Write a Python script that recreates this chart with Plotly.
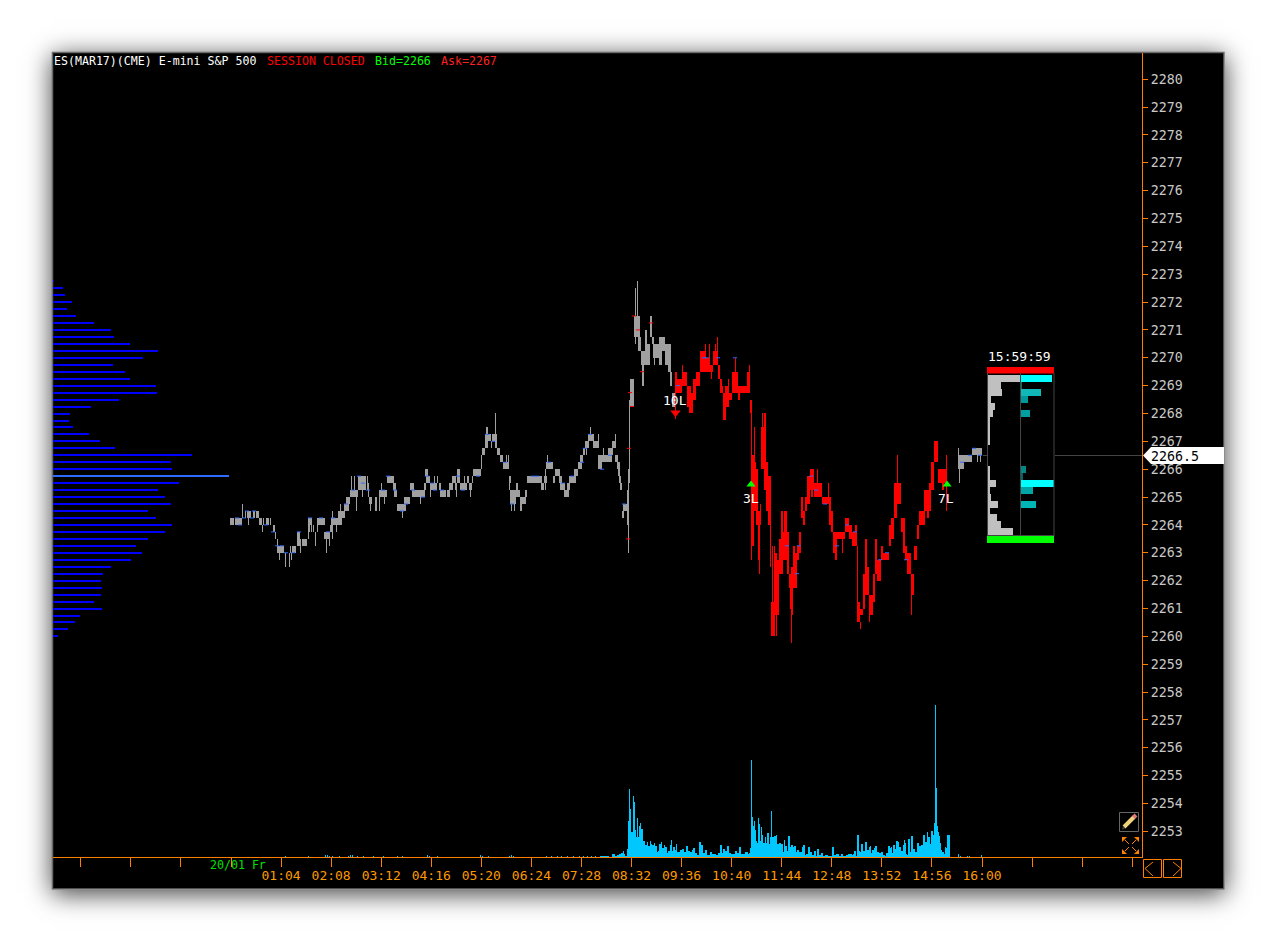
import plotly.graph_objects as go

W, H = 1277, 943
MONO = "DejaVu Sans Mono"
ORANGE = "#ff8000"
GRAY = "#a0a0a0"
RED = "#ff0000"
BLUE = "#2e6bff"
CYAN = "#00c8ff"

# ---- time scale: x axis is the bar number, one bar per pixel column
minutes_per_bar = 960 / 751
tick_minutes = [-192, -128, -64, 0, 64, 128, 192, 256, 320, 384, 448, 512, 576, 640, 704, 768, 832, 896, 960, 1024, 1088, 1152]
tick_labels = ["", "", "", "", "01:04", "02:08", "03:12", "04:16", "05:20", "06:24", "07:28", "08:32", "09:36", "10:40",
               "11:44", "12:48", "13:52", "14:56", "16:00", "", "", ""]

# ---- gray price blocks (bar range start, end, low, high)
gray_start = [-1, 4, 11, 16, 22, 25, 28, 31, 42, 46, 61, 66, 71, 77, 86, 93, 99, 100, 107, 113, 115, 119, 127, 138, 149, 156, 162, 163, 166, 173,
              179, 181, 193, 194, 195, 200, 209, 216, 218, 221, 224, 226, 231, 236, 238, 241, 242, 250, 251, 254, 255, 256, 261, 266, 269, 272, 278, 279, 285, 286,
              289, 291, 294, 296, 310, 313, 315, 322, 324, 328, 329, 333, 336, 338, 343, 347, 349, 352, 354, 357, 362, 367, 371, 377, 381, 384, 386, 387, 388, 389,
              391, 392, 399, 403, 407, 410, 414, 414, 419, 421, 422, 428, 431, 434, 437, 439, 441, 727, 733, 737, 741,
              208, 229, 14, 36, 59]
gray_end = [3, 11, 12, 20, 24, 28, 31, 32, 44, 53, 64, 69, 76, 81, 94, 99, 101, 111, 114, 118, 119, 127, 135, 141, 156, 163, 165, 166, 175, 179,
            183, 194, 195, 197, 199, 206, 215, 219, 222, 225, 226, 229, 236, 238, 241, 242, 250, 251, 254, 257, 257, 260, 264, 269, 272, 278, 280, 285, 287, 289,
            291, 295, 296, 311, 313, 316, 322, 324, 329, 331, 334, 338, 339, 345, 347, 351, 352, 354, 358, 363, 368, 371, 381, 382, 385, 387, 389, 389, 390, 391,
            393, 398, 403, 409, 410, 414, 416, 419, 421, 423, 428, 431, 434, 437, 440, 441, 444, 733, 737, 741, 751,
            210, 231, 15, 37, 60]
gray_low = [2264, 2264, 2264.25, 2264.25, 2264.25, 2264.25, 2264, 2263.75, 2263.75, 2263, 2263, 2263.25, 2263.25, 2264, 2264, 2263.5, 2263.75, 2264, 2264.25, 2264.5,
            2264.75, 2265, 2265.25, 2264.75, 2265, 2265.5, 2265.25, 2265, 2264.5, 2264.75,
            2265.25, 2265, 2265.25, 2265.75, 2265.5, 2265.25, 2265, 2265, 2265.25, 2265.5, 2265.25, 2265.5, 2265.25, 2265.5, 2265.25, 2265.5, 2265.75, 2266, 2266.5, 2266.75,
            2267, 2267, 2267, 2266.5, 2266.25, 2266, 2265.5, 2264.75, 2265, 2265,
            2264.5, 2264.75, 2265, 2265.5, 2265.25, 2265.5, 2266, 2265.5, 2265.75, 2265.5, 2265.25, 2265, 2265.25, 2265.5, 2265.75, 2266, 2266.25, 2266.5, 2266.75, 2267,
            2266.75, 2266, 2266.25, 2266.5, 2266.75, 2266.25, 2266, 2265.75, 2265.5, 2265.25,
            2264.25, 2264.5, 2268.25, 2270.75, 2270.25, 2269.75, 2270.5, 2269.75, 2270.75, 2270.5, 2270, 2269.75, 2270.25, 2269.75, 2269.5, 2269, 2268.25, 2266, 2266.25, 2266.25, 2266.5,
            2265.25, 2265.25, 2264.25, 2264, 2263]
gray_high = [2264.25, 2264.25, 2264.5, 2264.5, 2264.5, 2264.5, 2264.25, 2264, 2264, 2263.25, 2263.25, 2263.75, 2263.5, 2264.25, 2264.25, 2263.75, 2264, 2264.25, 2264.5, 2264.75,
             2265, 2265.25, 2265.75, 2265, 2265.25, 2265.75, 2265.5, 2265.25, 2264.75, 2265,
             2265.5, 2265.25, 2265.5, 2266, 2265.75, 2265.5, 2265.25, 2265.25, 2265.5, 2265.75, 2265.5, 2266, 2265.5, 2265.75, 2265.5, 2265.75, 2266, 2266.5, 2266.75, 2267.25,
             2267.5, 2267.25, 2267.25, 2266.75, 2266.5, 2266.25, 2265.75, 2265.25, 2265.5, 2265.25,
             2265, 2265, 2265.25, 2265.75, 2265.5, 2265.75, 2266.25, 2265.75, 2266, 2265.75, 2265.5, 2265.25, 2265.5, 2265.75, 2266, 2266.25, 2266.5, 2266.75, 2267, 2267.25,
             2267, 2266.5, 2266.5, 2266.75, 2267, 2266.5, 2266.25, 2266, 2265.75, 2265.5,
             2264.5, 2264.75, 2269.25, 2271.5, 2270.75, 2270.25, 2271, 2270.5, 2271.5, 2270.75, 2270.5, 2270.75, 2270.75, 2270.5, 2270.5, 2269.5, 2268.75, 2266.5, 2266.5, 2266.5, 2266.75,
             2265.5, 2265.5, 2264.5, 2264.25, 2263.25]

# ---- gray one-bar spikes
gw_x = [11, 17, 32, 35, 37, 39, 31, 44, 46, 48, 54, 58, 60, 64, 69, 77, 78, 80, 82, 84, 86, 95, 98, 101, 101, 105, 109, 125, 120, 123, 131, 136, 137, 139, 144, 145, 148, 150, 153, 171, 189, 199,
        203, 206, 208, 199, 225, 233, 239, 260, 264, 265, 275, 277, 278, 280, 283, 290, 314, 314, 316, 322, 355, 359, 367, 372, 384,
        396, 397, 398, 398, 404, 406, 404, 411, 412, 423, 727, 728, 746, 749]
gw_low = [2264.25, 2264, 2264, 2264, 2264, 2264, 2263.75, 2263.5, 2263.25, 2262.75, 2262.5, 2262.5, 2262.75, 2263, 2263, 2263.5, 2263.75, 2263.75, 2263.75, 2263.25, 2263.75, 2263, 2263.25, 2264.25, 2263.5, 2263.75, 2264.5, 2264.5, 2265.25, 2265.25, 2265, 2265.25, 2265, 2264.5, 2264.5, 2264.5, 2264.5, 2265.25, 2264.75, 2264.25, 2264.75, 2265,
          2265.5, 2265.5, 2265.25, 2265, 2265, 2265.5, 2265, 2266.75, 2266.75, 2266.75, 2266.25, 2266.25, 2265.25, 2264.5, 2264.5, 2264.5, 2265.25, 2265.75, 2266.25, 2265.5, 2266.5, 2267.25, 2267, 2266.5, 2267,
          2264, 2263, 2265.5, 2267.25, 2271.5, 2271.5, 2270.5, 2269, 2269, 2269.75, 2266, 2265.5, 2266.25, 2266.25]
gw_high = [2264.75, 2264.25, 2264.25, 2264.25, 2264.25, 2264.25, 2264, 2263.75, 2263.5, 2263, 2263, 2263, 2263, 2263.25, 2263.5, 2264, 2264, 2264, 2264, 2263.75, 2264, 2263.5, 2263.5, 2264.5, 2264, 2264, 2264.75, 2265, 2265.75, 2265.75, 2265.25, 2265.75, 2265.5, 2264.75, 2265, 2265, 2265.25, 2265.5, 2265, 2264.5, 2265, 2265.5,
           2265.75, 2265.75, 2265.5, 2265.25, 2265.25, 2265.75, 2265.25, 2267, 2268, 2267.25, 2266.5, 2266.5, 2265.75, 2264.75, 2264.75, 2264.75, 2265.5, 2266, 2266.5, 2265.75, 2266.75, 2267.5, 2267.25, 2266.75, 2267.25,
           2265.25, 2266, 2268.5, 2268.25, 2272.5, 2272.75, 2270.75, 2269.75, 2269.75, 2270, 2266.75, 2266, 2266.5, 2266.5]

# ---- red price blocks
red_start = [445, 446, 451, 456, 458, 462, 465, 469, 476, 482, 489, 492, 494, 498, 501, 507, 509, 519, 521, 523, 525, 527, 529, 530, 533, 535, 537, 539, 540, 544,
             546, 548, 550, 552, 553, 558, 559, 562, 564, 566, 568, 570, 572, 574, 576, 579, 583, 587, 591, 595, 600, 602, 604, 606, 614, 618, 621, 624, 626, 629,
             632, 634, 638, 642, 644, 646, 650, 652, 658, 660, 663, 666, 670, 674, 676, 680, 683, 686, 688, 693, 696, 700, 703, 707, 711,
             475, 479, 487, 491, 516, 556, 560, 698, 713, 636, 634, 598, 580, 604, 672]
red_end = [446, 451, 456, 460, 462, 465, 469, 475, 479, 487, 491, 495, 498, 501, 507, 509, 516, 521, 523, 525, 527, 529, 530, 533, 535, 537, 539, 540, 544, 546,
           548, 550, 552, 558, 556, 560, 561, 564, 566, 568, 570, 572, 574, 576, 579, 583, 587, 591, 595, 600, 602, 604, 606, 614, 618, 621, 624, 626, 629, 632,
           634, 636, 642, 644, 646, 650, 652, 658, 660, 663, 666, 670, 674, 676, 680, 683, 686, 688, 694, 696, 698, 703, 707, 711, 713,
           476, 482, 489, 492, 519, 558, 562, 700, 715, 638, 636, 600, 582, 606, 674]
red_low = [2268.75, 2268.75, 2269, 2268.25, 2268, 2268.5, 2269, 2269.5, 2269.5, 2269.75, 2268.75, 2267.75, 2268.25, 2268.5, 2268.75, 2268.5, 2268.75, 2268, 2263.25, 2264.5, 2264, 2262.75, 2264, 2266, 2265.25, 2264.5, 2264, 2262.5, 2260, 2260.75,
           2260.75, 2262.25, 2262.25, 2262.75, 2263.25, 2261.75, 2261, 2261.75, 2261.75, 2262.75, 2263, 2264.25, 2264, 2264.5, 2264.75, 2265.25, 2265, 2265, 2264.75, 2264.75, 2263.75, 2263, 2262.75, 2263.5, 2263.75, 2263.5, 2263.25, 2263.25, 2260.5, 2260.75,
           2261, 2262.5, 2260.75, 2261.25, 2262.25, 2262, 2262.75, 2262.75, 2263.25, 2263.5, 2264.25, 2264.75, 2263.75, 2262.75, 2262.25, 2261.5, 2262.75, 2263.5, 2264, 2264.5, 2264.25, 2265.25, 2266.25, 2265.5, 2265.25,
           2269.5, 2269.5, 2269.25, 2268.75, 2268.75, 2262.25, 2260.75, 2264.5, 2265.5, 2261.5, 2261.5, 2264, 2265, 2263, 2263]
red_high = [2269.5, 2269.25, 2269.5, 2269, 2268.75, 2269.25, 2269.5, 2270.25, 2270, 2270.25, 2269.25, 2268.75, 2269, 2268.75, 2269.5, 2269, 2269, 2268.5, 2266.5, 2266.25, 2266, 2264.5, 2264.75, 2267.5, 2268, 2266.25, 2265.75, 2264.25, 2261.25, 2263,
            2262.75, 2263.5, 2264.5, 2263.75, 2264.5, 2262.25, 2262, 2263.25, 2263, 2263.25, 2263.75, 2265, 2264.5, 2265, 2265.75, 2266, 2265.5, 2265.5, 2265, 2265, 2264.5, 2263.75, 2263.5, 2263.75, 2264.25, 2264, 2263.75, 2264, 2261.25, 2261,
            2262.25, 2263.5, 2261.5, 2262.25, 2263.5, 2262.75, 2263.25, 2263, 2264, 2264.25, 2265.5, 2265.5, 2264.25, 2263.25, 2263, 2262.25, 2263.25, 2264, 2264.5, 2265.25, 2265.25, 2266.25, 2267, 2266, 2266,
            2270, 2269.75, 2269.75, 2269, 2269.5, 2263.5, 2262.5, 2265.5, 2266, 2262.5, 2262.5, 2264.75, 2265.75, 2263.75, 2264]

# ---- red one-bar spikes
rw_x = [444, 451, 474, 478, 480, 484, 486, 488, 497, 504, 516, 518, 520, 523, 528, 531, 539, 543, 541, 545, 560, 586, 597, 611, 626, 629, 638, 666, 680, 715]
rw_low = [2267.8, 2269, 2270.25, 2270, 2269.25, 2270.25, 2269.75, 2269.25, 2269, 2269.5, 2269, 2268.75, 2262.75, 2266.25, 2262.25, 2267.5, 2263.75, 2261.25, 2261.25, 2260, 2259.75, 2265.5, 2265, 2263, 2261.25, 2260.25, 2260.5, 2265.25, 2260.75, 2264.5]
rw_high = [2269.5, 2269.75, 2270.5, 2270.5, 2269.75, 2270.5, 2270.75, 2269.75, 2269.25, 2270, 2269.5, 2269.75, 2268, 2267.5, 2262.75, 2268, 2265.75, 2263.25, 2263.25, 2260.75, 2261, 2266, 2265.5, 2263.5, 2263.25, 2260.5, 2261.5, 2266.5, 2261.5, 2266.5]

# ---- small trade ticks on the bars
blue_x = [6, 9, 13, 21, 16, 23, 35, 42, 46, 51, 55, 62, 68, 79, 90, 97, 102, 115, 122, 128, 132, 137, 152, 157, 164, 171, 175, 182, 192, 196, 201,
          204, 211, 227, 232, 247, 256, 262, 274, 281, 302, 306, 318, 332, 341, 351, 354, 359, 371, 379, 393,
          447, 473, 476, 487, 504, 580, 585, 594, 616, 624, 606, 556, 568, 566, 649, 656, 675, 731, 743, 749, 739]
blue_y = [2264.25, 2264, 2264.25, 2264.25, 2264.5, 2264.5, 2264, 2263.75, 2263.25, 2263.25, 2263, 2263, 2263.75, 2264.25, 2264.25, 2263.75, 2264.25, 2264.75, 2265.25, 2265.75, 2265.5, 2265.25, 2265.25, 2265.75, 2265.25, 2264.5, 2264.75, 2265.25, 2265, 2265.75, 2265.5,
          2265.25, 2265.25, 2265.75, 2265.25, 2265.75, 2267.25, 2267, 2266.25, 2264.75, 2265.75, 2265.75, 2266.25, 2265.5, 2265.75, 2266.25, 2266.75, 2267.25, 2266, 2266.5, 2264.75,
          2269, 2270, 2270, 2270, 2270, 2265.75, 2265.25, 2264.75, 2264, 2263.75, 2263.25, 2263.25, 2263.25, 2262.25, 2262.75, 2263, 2262.75, 2266.25, 2266.75, 2266.5, 2266.5]
speck_x = [403, 407, 420, 411, 399, 401, 398, 397]
speck_y = [2271.5, 2271, 2271.25, 2269.5, 2268.75, 2268.25, 2266.75, 2263.5]

# ---- volume per bar
vol_x = [54, 77, 94, 96, 98, 101, 108, 117, 119, 121, 126, 132, 142, 152, 166, 171, 196, 198, 206, 249, 251, 257, 278, 280, 282, 315, 320, 326, 330, 336, 342, 348, 352, 356, 360, 364,
         369, 372, 375, 381, 384, 386, 388, 390, 392, 393, 394, 396, 397, 398, 399, 400, 401, 402, 403, 404, 405, 406, 407, 408, 409, 410, 412, 413, 414, 416, 417, 419, 420, 421, 423, 424, 426, 427, 428,
         430, 431, 433, 434, 436, 437, 439, 440, 441, 442, 444, 445, 446, 448, 449, 451, 453, 455, 457, 459, 461, 462, 464, 466, 468, 470, 472, 474, 476, 479, 481, 483, 485, 487, 489, 491, 492, 494, 496, 498,
         500, 501, 504, 506, 508, 510, 512, 514, 517, 518, 519, 520, 521, 522, 523, 524, 525, 526, 527, 528, 529, 530, 531, 532, 534, 535, 536, 538, 539, 540, 541, 543, 545, 546, 548, 550, 552, 553, 554, 556, 557, 559, 560, 562, 563, 565, 566, 568,
         571, 572, 574, 575, 577, 579, 581, 583, 585, 586, 588, 590, 592, 594, 597, 599, 601, 603, 605, 608, 610, 612, 615, 617, 619, 621, 622, 623, 625, 626, 628, 629, 630, 632, 634, 636, 638, 639, 640, 641, 643, 644, 646, 648, 650, 652, 654, 655, 657, 659, 660, 661, 662, 664, 665, 667, 668, 670, 672, 673, 674, 675, 676, 677, 679, 680, 682, 684, 686, 688, 690, 692, 694, 696, 697, 699, 700, 702, 703, 704, 705, 706, 707, 708, 709, 710, 711, 713, 714, 715, 716,
         727, 729, 736, 738, 750]
vol_y = [1, 1, 2, 2, 1, 1, 1, 1, 2, 2, 1, 1, 1, 1, 1, 1, 2, 1, 1, 2, 1, 1, 1, 2, 1, 1, 1, 1, 1, 1, 1, 1, 1, 1, 1, 1,
         1, 1, 1, 3, 1, 2, 3, 4, 6, 3, 1, 8, 36, 68, 48, 25, 25, 61, 55, 27, 20, 39, 20, 31, 34, 28, 16, 16, 12, 15, 11, 16, 13, 12, 14, 11, 5, 6, 13,
         15, 9, 12, 10, 4, 6, 12, 17, 6, 10, 7, 13, 5, 5, 7, 8, 5, 11, 6, 5, 7, 9, 4, 2, 15, 12, 4, 7, 2, 5, 3, 3, 2, 4, 12, 4, 8, 6, 11, 4,
         3, 3, 6, 4, 10, 3, 3, 5, 3, 4, 9, 97, 40, 31, 36, 27, 16, 14, 39, 33, 16, 30, 22, 14, 20, 14, 24, 13, 20, 46, 20, 21, 22, 13, 14, 13, 5, 17, 11, 6, 21, 10, 12, 10, 11, 5, 7, 5,
         10, 12, 2, 3, 10, 5, 2, 6, 1, 8, 2, 4, 1, 2, 1, 1, 10, 2, 3, 1, 3, 1, 2, 3, 3, 2, 3, 6, 1, 22, 6, 5, 13, 6, 15, 7, 10, 11, 4, 7, 9, 11, 5, 4, 5, 2, 1, 4, 11, 9, 10, 4, 12, 8, 16, 15, 10, 6, 12, 17, 14, 3, 2, 18, 5, 21, 8, 5, 14, 11, 12, 22, 15, 25, 20, 13, 26, 22, 34, 152, 69, 31, 25, 21, 14, 7, 5, 3, 10, 9, 22,
         3, 1, 1, 1, 2]

# ---- volume-at-price profile, left edge
profile_price = [2272.75, 2272.5, 2272.25, 2272, 2271.75, 2271.5, 2271.25, 2271, 2270.75, 2270.5, 2270.25, 2270, 2269.75, 2269.5, 2269.25, 2269, 2268.75, 2268.5, 2268.25, 2268, 2267.75, 2267.5, 2267.25, 2267, 2266.75, 2266.5,
                 2266.25, 2266, 2265.75, 2265.5, 2265.25, 2265, 2264.75, 2264.5, 2264.25, 2264, 2263.75, 2263.5, 2263.25, 2263, 2262.75, 2262.5, 2262.25, 2262, 2261.75, 2261.5, 2261.25, 2261, 2260.75, 2260.5, 2260.25, 2260]
profile_vol = [1, 10, 12, 19, 14, 23, 41, 58, 61, 77, 105, 90, 60, 72, 77, 103, 104, 66, 38, 17, 16, 20, 36, 47, 62, 139,
               118, 119, 176, 126, 105, 112, 118, 95, 103, 119, 112, 95, 83, 89, 78, 58, 50, 48, 49, 48, 41, 49, 27, 22, 15, 5]

# ---- last-session bid / ask profile
box_price = [2269.25, 2269, 2268.75, 2268.5, 2268.25, 2268, 2267.75, 2267.5, 2267.25, 2267, 2266, 2265.75, 2265.5, 2265.25, 2265, 2264.75, 2264.5, 2264.25, 2264, 2263.75]
box_bid = [32, 13, 14, 3, 7, 5, 2, 2, 2, 2, 2, 2, 8, 2, 3, 10, 2, 9, 13, 25]
box_ask = [31, 1, 20, 7, 0, 9, 0, 0, 0, 0, 5, 2, 33, 12, 0, 15, 0, 0, 0, 0]
box_ask_color = ["#00ffff", "#007070", "#10b8b8", "#009999", "#000000", "#00a0a0", "#000000", "#000000", "#000000", "#000000",
                 "#008888", "#006666", "#00ffff", "#00a5a5", "#000000", "#00b5b5", "#000000", "#000000", "#000000", "#000000"]

last_price = 2266.5


def bar_of(start, end, low, high, color):
    return go.Bar(x=[(s + e) / 2 for s, e in zip(start, end)], width=[e - s for s, e in zip(start, end)],
                  base=low, y=[h - l for h, l in zip(high, low)], marker=dict(color=color, line=dict(width=0)),
                  hoverinfo="skip", showlegend=False)


def spike_of(xs, low, high, color):
    return go.Bar(x=[v + 0.5 for v in xs], width=[1] * len(xs), base=low, y=[h - l for h, l in zip(high, low)],
                  marker=dict(color=color, line=dict(width=0)), hoverinfo="skip", showlegend=False)


fig = go.Figure()
fig.add_trace(bar_of(gray_start, gray_end, gray_low, gray_high, GRAY))
fig.add_trace(spike_of(gw_x, gw_low, gw_high, GRAY))
fig.add_trace(bar_of(red_start, red_end, red_low, red_high, RED))
fig.add_trace(spike_of(rw_x, rw_low, rw_high, RED))
fig.add_trace(go.Scatter(x=blue_x, y=blue_y, mode="markers", hoverinfo="skip", showlegend=False,
                         marker=dict(symbol="line-ew", size=3, line=dict(color=BLUE, width=1))))
fig.add_trace(go.Scatter(x=speck_x, y=speck_y, mode="markers", hoverinfo="skip", showlegend=False,
                         marker=dict(symbol="line-ew", size=3, line=dict(color=RED, width=1))))

# volume bars on their own scale
vol_w = [min(b - a, 3) for a, b in zip(vol_x, vol_x[1:])] + [1]
vol_w = [1 if a < 369 or a > 716 else w for a, w in zip(vol_x, vol_w)]
fig.add_trace(go.Bar(x=[a + w / 2 for a, w in zip(vol_x, vol_w)], width=vol_w, y=vol_y, yaxis="y2",
                     marker=dict(color=CYAN, line=dict(width=0)), hoverinfo="skip", showlegend=False))

# left profile, on a length axis
poc = profile_vol.index(max(profile_vol))
fig.add_trace(go.Bar(x=profile_vol, y=profile_price, orientation="h", xaxis="x2", width=0.04,
                     marker=dict(color=["#2e6bff" if i == poc else "#0000ff" for i in range(len(profile_vol))], line=dict(width=0)),
                     hoverinfo="skip", showlegend=False))
# session box profile
BID_BASE, ASK_BASE = 935, 968
fig.add_trace(go.Bar(x=box_bid, y=box_price, base=[BID_BASE] * len(box_bid), orientation="h", xaxis="x2", width=0.25,
                     marker=dict(color="#c0c0c0", line=dict(width=0)), hoverinfo="skip", showlegend=False))
fig.add_trace(go.Bar(x=box_ask, y=box_price, base=[ASK_BASE] * len(box_ask), orientation="h", xaxis="x2", width=0.25,
                     marker=dict(color=box_ask_color, line=dict(width=0)), hoverinfo="skip", showlegend=False))

# signal markers
fig.add_trace(go.Scatter(x=[444.5], y=[2268.03], mode="markers", hoverinfo="skip", showlegend=False,
                         marker=dict(symbol="triangle-down", size=9, color=RED, line=dict(width=0))))
fig.add_trace(go.Scatter(x=[520, 716], y=[2265.45, 2265.45], mode="markers", hoverinfo="skip", showlegend=False,
                         marker=dict(symbol="triangle-up", size=8, color="#00ff00", line=dict(width=0))))


def px(v):
    return v / W


def py(v):
    return 1 - v / H


def rect(x0, y0, x1, y1, fill=None, line=None, lw=1, layer="below", opacity=1):
    return dict(type="rect", xref="paper", yref="paper", x0=px(x0), x1=px(x1), y0=py(y0), y1=py(y1), layer=layer, opacity=opacity,
                fillcolor=fill or "rgba(0,0,0,0)", line=dict(color=line or "rgba(0,0,0,0)", width=lw if line else 0))


def seg(x0, y0, x1, y1, color, lw=1, layer="above"):
    return dict(type="line", xref="paper", yref="paper", x0=px(x0), x1=px(x1), y0=py(y0), y1=py(y1), layer=layer, line=dict(color=color, width=lw))


def poly(points, fill=None, line=None, lw=1, layer="above"):
    path = "M" + " L".join(f"{px(a):.5f},{py(b):.5f}" for a, b in points)
    if fill:
        path += " Z"
    return dict(type="path", xref="paper", yref="paper", path=path, layer=layer,
                fillcolor=fill or "rgba(0,0,0,0)", line=dict(color=line or "rgba(0,0,0,0)", width=lw if line else 0))


shapes = [rect(52.5, 52.5, 1224, 889, fill="#000000", line="#6a6a6a", lw=1.5)]

# session box
shapes += [
    rect(987, 367, 1054, 373.5, fill="#ff0000", layer="above"),
    rect(987, 536, 1054, 543, fill="#00ff00", layer="above"),
    seg(987.5, 373, 987.5, 536, "#444444"),
    seg(1020.5, 373, 1020.5, 535, "#444444"),
    seg(1054, 373, 1054, 536, "#444444"),
    seg(987, 535.5, 1054, 535.5, "#444444"),
    seg(983, 455.5, 988, 455.5, "#444444"),
    seg(1055, 455.5, 1142, 455.5, "#444444"),
    # last price tag
    poly([(1143, 455.5), (1151, 447), (1224, 447), (1224, 464), (1151, 464)], fill="#ffffff"),
    # pencil button
    rect(1119.5, 812.5, 1138.5, 831.5, line="#666666", lw=1, layer="above"),
    seg(1124, 827, 1134, 817, "#f0d27a", 4),
    seg(1133.5, 817.5, 1136, 815, "#e07a7a", 4),
    poly([(1122, 829.5), (1125, 828.5), (1123, 826.5)], fill="#444444"),
    # expand icon
    poly([(1122, 837), (1127, 837), (1122, 842)], fill=ORANGE),
    poly([(1139, 837), (1134, 837), (1139, 842)], fill=ORANGE),
    poly([(1122, 854), (1127, 854), (1122, 849)], fill=ORANGE),
    poly([(1139, 854), (1134, 854), (1139, 849)], fill=ORANGE),
    seg(1125, 840, 1129, 844, ORANGE), seg(1136, 840, 1132, 844, ORANGE),
    seg(1125, 851, 1129, 847, ORANGE), seg(1136, 851, 1132, 847, ORANGE),
    # scroll buttons
    rect(1143.5, 859.5, 1161.5, 877.5, line=ORANGE, lw=1, layer="above"),
    rect(1163.5, 859.5, 1181.5, 877.5, line=ORANGE, lw=1, layer="above"),
    poly([(1153, 862), (1145, 868.5), (1153, 876)], line=ORANGE),
    poly([(1173, 862), (1181, 868.5), (1173, 876)], line=ORANGE),
]


def note(text, x, y, color, size, xanchor="left"):
    return dict(text=text, x=px(x), y=py(y), xref="paper", yref="paper", showarrow=False, xanchor=xanchor, yanchor="middle",
                font=dict(family=MONO, size=size, color=color), borderpad=0, borderwidth=0, align="left")


annotations = [
    note("ES(MAR17)(CME) E-mini S&amp;P 500", 54, 60.5, "#ffffff", 11.6),
    note("SESSION CLOSED", 267, 60.5, "#ff0000", 11.6),
    note("Bid=2266", 375, 60.5, "#00ff00", 11.6),
    note("Ask=2267", 441, 60.5, "#ff2020", 11.6),
    note("20/01 Fr", 210, 865, "#00e000", 11.6),
    note("15:59:59", 1019.5, 356, "#ffffff", 13, "center"),
    note("2266.5", 1151, 456, "#000000", 13.3),
]
for label, x, y in [("10L", 444, 2268.47), ("3L", 520, 2264.95), ("7L", 715, 2264.95)]:
    annotations.append(dict(text=label, x=x, y=y, xref="x", yref="y", showarrow=False, xanchor="center", yanchor="middle",
                            font=dict(family=MONO, size=13, color="#ffffff")))

dom_x = [53 / W, 1142 / W]
dom_y = [1 - 857 / H, 1 - 53 / H]
fig.update_layout(
    width=W, height=H, autosize=False, margin=dict(l=0, r=0, t=0, b=0), paper_bgcolor="rgba(0,0,0,0)", plot_bgcolor="rgba(0,0,0,0)",
    barmode="overlay", bargap=0, showlegend=False, shapes=shapes, annotations=annotations, hovermode=False,
    xaxis=dict(domain=dom_x, range=[-178, 911], showgrid=False, zeroline=False, showline=True, linecolor=ORANGE, linewidth=1,
               ticks="outside", ticklen=9, tickcolor=ORANGE, tickwidth=1, ticklabelstandoff=-3,
               tickvals=[m / minutes_per_bar for m in tick_minutes], ticktext=tick_labels,
               tickfont=dict(family=MONO, size=13, color="#ff9a00"), tickangle=0, anchor="y", fixedrange=True),
    yaxis=dict(domain=dom_y, range=[2252.08, 2280.94], side="right", showgrid=False, zeroline=False, showline=True, linecolor=ORANGE, linewidth=1,
               ticks="outside", ticklen=5, tickcolor=ORANGE, tickwidth=1, dtick=1, tick0=2253, tickformat="d",
               tickfont=dict(family=MONO, size=13.3, color="#c8c8c8"), anchor="x", fixedrange=True),
    yaxis2=dict(domain=dom_y, range=[0, 804], overlaying="y", visible=False, anchor="x", fixedrange=True),
    xaxis2=dict(domain=dom_x, range=[0, 1089], overlaying="x", visible=False, anchor="y", fixedrange=True),
)

# page furniture: the soft drop shadow behind the black panel
PAGE_JS = """
document.body.style.margin='0';
document.body.style.overflow='hidden';
document.body.style.background='#ffffff';
var s=document.createElement('div');
s.style.cssText='position:absolute;left:52px;top:52px;width:1173px;height:838px;z-index:-1;box-shadow:0 4px 24px 0 rgba(0,0,0,0.75);';
document.body.appendChild(s);
"""
fig.write_html("out.html", include_plotlyjs=True, config=dict(displayModeBar=False), post_script=PAGE_JS)
